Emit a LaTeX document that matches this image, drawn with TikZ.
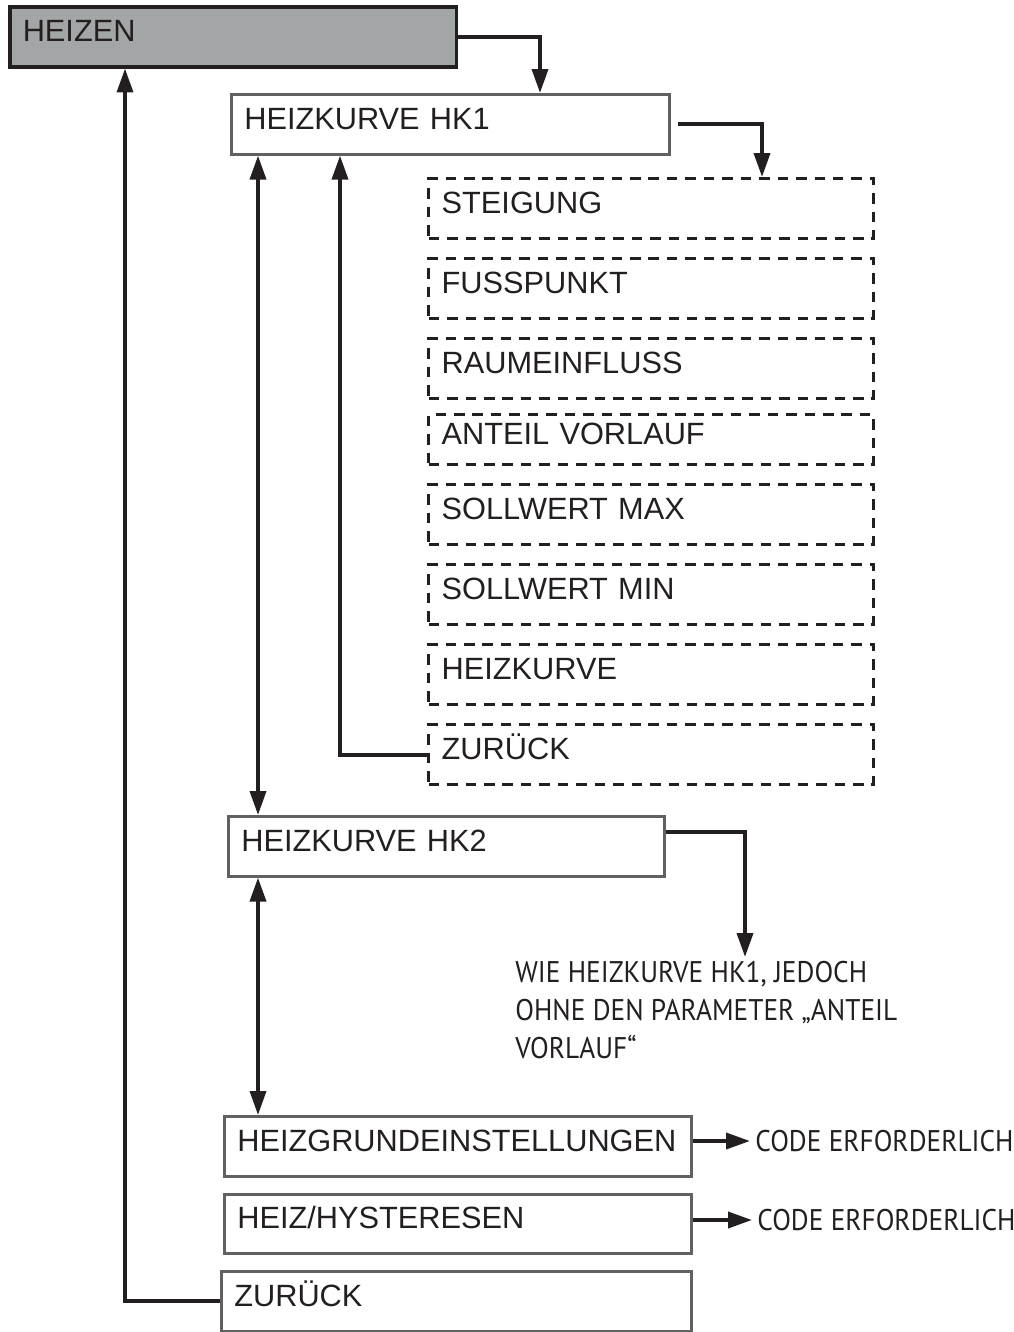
\documentclass[tikz,border=0pt]{standalone}
\usepackage{fontspec}
\setmainfont{Liberation Sans}
\newfontfamily\notefont[FakeStretch=0.915]{PT Sans}
\usetikzlibrary{positioning,calc}
\usetikzlibrary{arrows.meta}
\definecolor{HeizGray}{RGB}{163,166,166}
\definecolor{InkBlack}{RGB}{35,31,32}
\tikzset{
	item/.style={anchor=north west,inner xsep=0.26cm,inner ysep=0pt,minimum height=1.2cm,
		align=left,text height=0.45cm,text depth=0.25cm,text=InkBlack,
		font=\fontsize{17.5}{20}\selectfont},
	rootbox/.style={item,draw=InkBlack,line width=2pt,fill=HeizGray,text width=8.42cm},
	menubox/.style={item,draw=black!62,line width=1.5pt},
	subbox/.style={item,draw=InkBlack,line width=1.9pt,dash pattern=on 6pt off 4.5pt,text width=8.38cm},
	notetext/.style={anchor=north west,inner sep=0pt,align=left,text=InkBlack,
		font=\notefont\fontsize{17}{21.6}\selectfont},
	conn/.style={draw=InkBlack,line width=2.1pt,-{Triangle[length=0.48cm,width=0.32cm]}},
	dconn/.style={conn,{Triangle[length=0.48cm,width=0.32cm]}-{Triangle[length=0.48cm,width=0.32cm]}},
}
\begin{document}
\begin{tikzpicture}[x=0.02cm,y=-0.02cm]
	\useasboundingbox (0,0) rectangle (1014,1332);
	% main menu
	\node[rootbox] (heizen) at (8,5) {HEIZEN};
	\node[menubox,text width=8.24cm] (hk1) at (230,93) {HEIZKURVE HK1};
	% parameters of HK1
	\node[subbox] (steig) at (427,177) {STEIGUNG};
	\node[subbox] (fuss) at (427,257) {FUSSPUNKT};
	\node[subbox] (raum) at (427,337) {RAUMEINFLUSS};
	\node[subbox,minimum height=1.0cm] (anteil) at (427,413) {ANTEIL VORLAUF};
	\node[subbox] (smax) at (427,483) {SOLLWERT MAX};
	\node[subbox] (smin) at (427,563) {SOLLWERT MIN};
	\node[subbox] (kurve) at (427,643) {HEIZKURVE};
	\node[subbox] (zur1) at (427,723) {ZURÜCK};
	% remaining entries
	\node[menubox,text width=8.2cm] (hk2) at (227,815) {HEIZKURVE HK2};
	\node[notetext] (note) at (515,961) {WIE HEIZKURVE HK1, JEDOCH\\OHNE DEN PARAMETER „ANTEIL\\VORLAUF“};
	\node[menubox,text width=8.82cm] (grund) at (223,1115) {HEIZGRUNDEINSTELLUNGEN};
	\node[menubox,text width=8.82cm,minimum height=1.18cm] (hyst) at (223,1193) {HEIZ/HYSTERESEN};
	\node[menubox,text width=8.88cm] (back) at (220,1270) {ZURÜCK};
	\node[notetext,anchor=west,inner xsep=0.1cm] (code1) at (750,1141) {CODE ERFORDERLICH};
	\node[notetext,anchor=west,inner xsep=0.1cm] (code2) at (752,1220) {CODE ERFORDERLICH};
	% connectors
	\draw[conn] (heizen.east) -| ($(hk1.north west)+(310,0)$);
	\draw[conn] ([xshift=0.14cm]hk1.east) -| ($(steig.north west)+(335,0)$);
	\draw[conn] (zur1.west) -| ($(hk1.south west)+(110,0)$);
	\draw[dconn] ($(hk1.south west)+(28,0)$) -- ($(hk2.north west)+(31,0)$);
	\draw[conn] ($(hk2.north east)+(0,17)$) -| ($(note.north west)+(230,-4)$);
	\draw[dconn] ($(hk2.south west)+(31,0)$) -- ($(grund.north west)+(35,0)$);
	\draw[conn] (grund.east |- code1.west) -- (code1.west);
	\draw[conn] (hyst.east |- code2.west) -- (code2.west);
	\draw[conn] (back.west) -| ($(heizen.south west)+(117,0)$);
\end{tikzpicture}
\end{document}
